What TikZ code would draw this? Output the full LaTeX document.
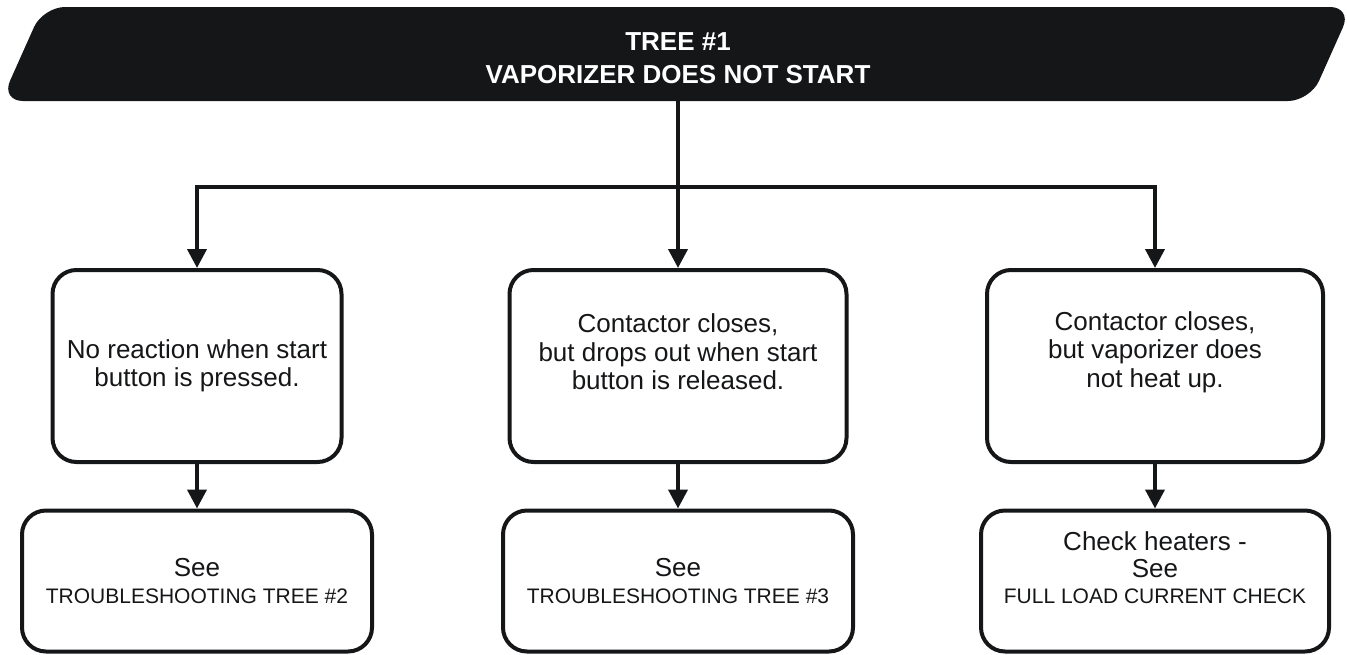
\documentclass[tikz,border=0pt]{standalone}
\usepackage{fontspec}
\setmainfont{Liberation Sans}
\usetikzlibrary{arrows.meta}
\definecolor{ink}{HTML}{151618}
\tikzset{
  box/.style={draw=ink, line width=4pt, rounded corners=24pt, inner sep=0pt},
  txt/.style={align=center, text=ink, inner sep=0pt, font=\fontsize{26}{28.5}\selectfont},
  txtb/.style={align=center, text=ink, inner sep=0pt, font=\fontsize{26}{26.5}\selectfont},
  arr/.style={draw=ink, line width=4pt, -{Triangle[width=19pt,length=19pt]}}
}
\newcommand{\capsline}[1]{{\fontsize{21}{26.5}\selectfont #1}}
\begin{document}
\begin{tikzpicture}[x=1pt,y=-1pt]
\useasboundingbox (0,0) rectangle (1347,654);
% banner
\fill[ink, rounded corners=22pt] (43,7) -- (1352,7) -- (1310,101) -- (1,101) -- cycle;
\node[text=white, align=center, font=\bfseries\fontsize{26}{33}\selectfont] (title) at (678,58)
  {TREE \#1\\VAPORIZER DOES NOT START};
\coordinate (bb) at (678,101);
\coordinate (hrow) at (678,187);
% row 1
\node[box, minimum width=289pt, minimum height=192pt] (A1) at (197,366) {};
\node[box, minimum width=337pt, minimum height=192pt] (B1) at (678,366) {};
\node[box, minimum width=336pt, minimum height=192pt] (C1) at (1155,366) {};
\node[txt] (A1t) at (197,366) {No reaction when start\\button is pressed.};
\node[txt] (B1t) at (678,352) {Contactor closes,\\but drops out when start\\button is released.};
\node[txt] (C1t) at (1155,352) {Contactor closes,\\but vaporizer does\\not heat up.};
% row 2
\node[box, minimum width=350pt, minimum height=141pt] (A2) at (197,581) {};
\node[box, minimum width=350pt, minimum height=141pt] (B2) at (678,581) {};
\node[box, minimum width=348pt, minimum height=141pt] (C2) at (1155,581) {};
\node[txtb] (A2t) at (197,581) {See\\\capsline{TROUBLESHOOTING TREE \#2}};
\node[txtb] (B2t) at (678,581) {See\\\capsline{TROUBLESHOOTING TREE \#3}};
\node[txtb] (C2t) at (1155,568) {Check heaters -\\See\\\capsline{FULL LOAD CURRENT CHECK}};
% connectors
\draw[arr] (bb) -- (B1.north);
\draw[arr] (hrow) -| (A1.north);
\draw[arr] (hrow) -| (C1.north);
\draw[arr] (A1.south) -- (A2.north);
\draw[arr] (B1.south) -- (B2.north);
\draw[arr] (C1.south) -- (C2.north);
\end{tikzpicture}
\end{document}
